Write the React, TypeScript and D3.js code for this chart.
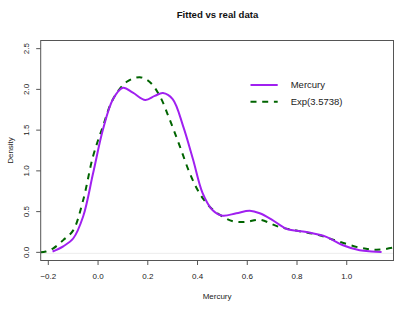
import React from 'react';
import * as d3 from 'd3';

// Mercury kernel density
const mercuryX = [-0.183, -0.14, -0.10, -0.06, -0.02, 0.02, 0.06, 0.10, 0.14, 0.19, 0.228, 0.261, 0.30, 0.342, 0.382, 0.42, 0.46, 0.50, 0.556, 0.61, 0.65, 0.70, 0.757, 0.838, 0.918, 0.985, 1.052, 1.10, 1.14];
const mercuryY = [0.01, 0.074, 0.17, 0.44, 0.97, 1.51, 1.88, 2.02, 1.96, 1.87, 1.92, 1.955, 1.88, 1.55, 1.14, 0.73, 0.52, 0.45, 0.48, 0.51, 0.48, 0.40, 0.29, 0.25, 0.19, 0.087, 0.025, 0.01, 0.004];

// fitted Exp(3.5738) curve
const fittedX = [-0.231, -0.21, -0.18, -0.14, -0.10, -0.06, -0.02, 0.02, 0.06, 0.114, 0.168, 0.208, 0.248, 0.288, 0.329, 0.369, 0.409, 0.449, 0.49, 0.543, 0.597, 0.65, 0.73, 0.81, 0.89, 0.97, 1.052, 1.10, 1.14, 1.19];
const fittedY = [0.0, 0.01, 0.05, 0.15, 0.27, 0.64, 1.18, 1.55, 1.88, 2.09, 2.15, 2.09, 1.92, 1.63, 1.30, 0.97, 0.72, 0.56, 0.46, 0.38, 0.375, 0.40, 0.31, 0.26, 0.21, 0.13, 0.058, 0.035, 0.035, 0.06];

const xTicks = [-0.2, 0.0, 0.2, 0.4, 0.6, 0.8, 1.0];
const yTicks = [0.0, 0.5, 1.0, 1.5, 2.0, 2.5];
const legendLabels = ['Mercury', 'Exp(3.5738)'];

const W = 415;
const H = 312;
const box = { left: 40.7, right: 393.5, top: 40.5, bottom: 260.5 };
const FONT = '"Liberation Sans", Arial, Helvetica, sans-serif';
const PURPLE = '#a020f0';
const GREEN = '#006400';

export default function App() {
  const x = d3.scaleLinear().domain([-0.2306, 1.188]).range([box.left, box.right]);
  const y = d3.scaleLinear().domain([-0.1, 2.6]).range([box.bottom, box.top]);

  const line = d3.line<[number, number]>()
    .x(d => x(d[0]))
    .y(d => y(d[1]))
    .curve(d3.curveCatmullRom.alpha(0.5));

  const mercury = mercuryX.map((v, i) => [v, mercuryY[i]] as [number, number]);
  const fitted = fittedX.map((v, i) => [v, fittedY[i]] as [number, number]);

  const cx = (box.left + box.right) / 2;
  const cy = (box.top + box.bottom) / 2;

  return (
    <div style={{ position: 'absolute', left: 0, top: 0 }}>
      <svg width={W} height={H} style={{ display: 'block', background: '#fff' }} fontFamily={FONT}>
        <defs>
          <clipPath id="plotClip">
            <rect x={box.left} y={box.top} width={box.right - box.left} height={box.bottom - box.top} />
          </clipPath>
        </defs>

        <text x={217.5} y={18} textAnchor="middle" fontSize={9.6} fontWeight="bold" fill="#111">
          Fitted vs real data
        </text>

        {/* faint zero line */}
        <line x1={box.left} x2={box.right} y1={y(0) + 1} y2={y(0) + 1} stroke="#ececec" strokeWidth={1} />

        <g clipPath="url(#plotClip)">
          <path d={line(fitted) || ''} fill="none" stroke={GREEN} strokeWidth={2} strokeDasharray="6,5.7" />
          <path d={line(mercury) || ''} fill="none" stroke={PURPLE} strokeWidth={2} />
        </g>

        <rect x={box.left} y={box.top} width={box.right - box.left} height={box.bottom - box.top}
          fill="none" stroke="#555" strokeWidth={1} />

        {/* x axis */}
        {xTicks.map(t => (
          <g key={'x' + t}>
            <line x1={x(t)} x2={x(t)} y1={box.bottom} y2={box.bottom + 4.5} stroke="#555" />
            <text x={x(t)} y={279} textAnchor="middle" fontSize={8} fill="#222">
              {t < 0 ? '\u2212' + Math.abs(t).toFixed(1) : t.toFixed(1)}
            </text>
          </g>
        ))}
        <text x={cx} y={298.5} textAnchor="middle" fontSize={8} fill="#222">Mercury</text>

        {/* y axis */}
        {yTicks.map(t => (
          <g key={'y' + t}>
            <line x1={box.left - 4.5} x2={box.left} y1={y(t)} y2={y(t)} stroke="#555" />
            <text transform={`translate(28.5,${y(t)}) rotate(-90)`} textAnchor="middle" fontSize={8} fill="#222">
              {t.toFixed(1)}
            </text>
          </g>
        ))}
        <text transform={`translate(12.5,${cy}) rotate(-90)`} textAnchor="middle" fontSize={8} fill="#222">Density</text>

        {/* legend */}
        <line x1={250.5} x2={277.7} y1={85} y2={85} stroke={PURPLE} strokeWidth={2} />
        <line x1={250.5} x2={277.7} y1={101.8} y2={101.8} stroke={GREEN} strokeWidth={2} strokeDasharray="6,5.7" />
        {legendLabels.map((l, i) => (
          <text key={l} x={290.7} y={88.4 + i * 16.8} fontSize={9.5} fill="#222">{l}</text>
        ))}
      </svg>
    </div>
  );
}
